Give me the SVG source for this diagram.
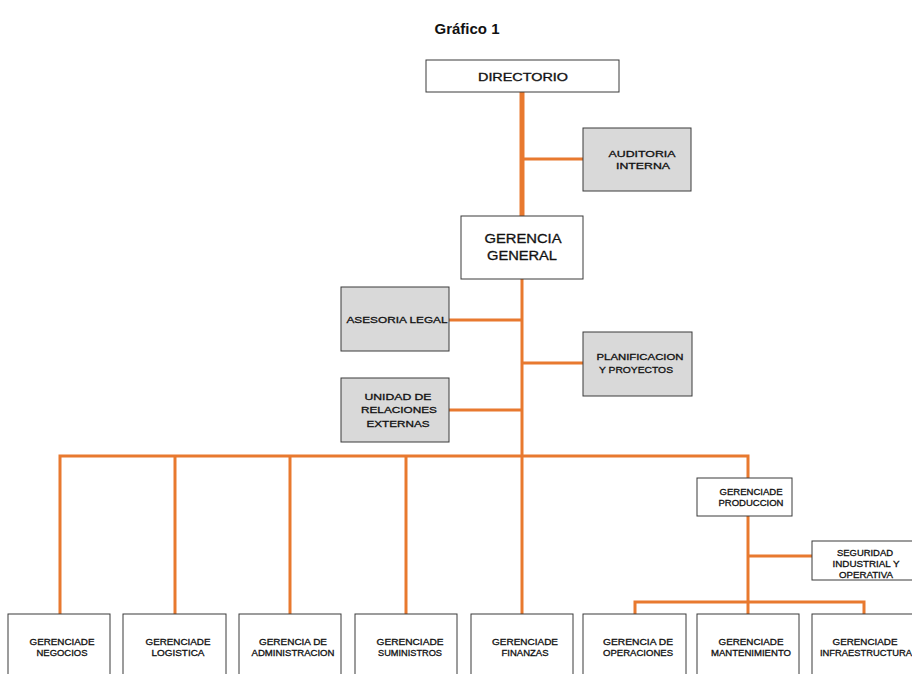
<svg xmlns="http://www.w3.org/2000/svg" width="912" height="674" viewBox="0 0 912 674">
<style>
.bx{fill:#ffffff;stroke:#3a3a3a;stroke-width:1}
.gr{fill:#d9d9d9;stroke:#3a3a3a;stroke-width:1}
.t{font-family:"Liberation Sans",Arial,sans-serif;fill:#111;stroke:#111;stroke-width:0.3;text-anchor:middle}
.s{font-size:9px}
.m{font-size:10px}
.l{font-size:12.5px}
.c{stroke:#E8792F;fill:none;stroke-width:3}
.trunk{stroke-width:5}
</style>
<rect width="912" height="674" fill="#ffffff"/>
<text x="467" y="34" font-family="Liberation Sans,Arial,sans-serif" font-size="15" font-weight="bold" text-anchor="middle" fill="#111">Gráfico 1</text>
<g id="connectors">
<line class="c trunk" x1="522" y1="92" x2="522" y2="216"/>
<line class="c" x1="522" y1="159" x2="583" y2="159"/>
<line class="c" x1="522" y1="279" x2="522" y2="456"/>
<line class="c" x1="449" y1="320" x2="522" y2="320"/>
<line class="c" x1="522" y1="363" x2="583" y2="363"/>
<line class="c" x1="449" y1="410" x2="522" y2="410"/>
<polyline class="c" points="60,614 60,456 748,456 748,478"/>
<line class="c" x1="175" y1="456" x2="175" y2="614"/>
<line class="c" x1="290" y1="456" x2="290" y2="614"/>
<line class="c" x1="406" y1="456" x2="406" y2="614"/>
<line class="c" x1="522" y1="456" x2="522" y2="614"/>
<line class="c" x1="748" y1="516" x2="748" y2="614"/>
<line class="c" x1="748" y1="556" x2="812" y2="556"/>
<polyline class="c" points="635,614 635,602 864,602 864,614"/>
</g>
<g id="directorio">
<rect class="bx" x="426" y="60" width="193" height="32"/>
<text class="t m" x="523" y="81" textLength="90" lengthAdjust="spacingAndGlyphs">DIRECTORIO</text>
</g>
<g id="auditoria">
<rect class="gr" x="583" y="128" width="108" height="63"/>
<text class="t s" x="642" y="157" textLength="67" lengthAdjust="spacingAndGlyphs">AUDITORIA</text>
<text class="t s" x="643" y="169" textLength="54" lengthAdjust="spacingAndGlyphs">INTERNA</text>
</g>
<g id="gerencia-general">
<rect class="bx" x="461" y="216" width="122" height="63"/>
<text class="t l" x="523" y="243" textLength="77" lengthAdjust="spacingAndGlyphs">GERENCIA</text>
<text class="t l" x="522" y="260" textLength="70" lengthAdjust="spacingAndGlyphs">GENERAL</text>
</g>
<g id="asesoria">
<rect class="gr" x="341" y="287" width="108" height="64"/>
<text class="t s" x="397" y="323" textLength="101" lengthAdjust="spacingAndGlyphs">ASESORIA LEGAL</text>
</g>
<g id="planificacion">
<rect class="gr" x="583" y="332" width="109" height="64"/>
<text class="t s" x="640" y="360" textLength="87" lengthAdjust="spacingAndGlyphs">PLANIFICACION</text>
<text class="t s" x="636" y="373" textLength="74" lengthAdjust="spacingAndGlyphs">Y PROYECTOS</text>
</g>
<g id="relaciones">
<rect class="gr" x="341" y="378" width="108" height="64"/>
<text class="t s" x="398" y="400" textLength="67" lengthAdjust="spacingAndGlyphs">UNIDAD DE</text>
<text class="t s" x="399" y="413" textLength="76" lengthAdjust="spacingAndGlyphs">RELACIONES</text>
<text class="t s" x="398" y="427" textLength="63" lengthAdjust="spacingAndGlyphs">EXTERNAS</text>
</g>
<g id="produccion">
<rect class="bx" x="697" y="478" width="95" height="38"/>
<text class="t s" x="751" y="495" font-size="8.5" textLength="63" lengthAdjust="spacingAndGlyphs">GERENCIADE</text>
<text class="t s" x="751" y="506" font-size="8.5" textLength="65" lengthAdjust="spacingAndGlyphs">PRODUCCION</text>
</g>
<g id="seguridad">
<rect class="bx" x="812" y="541" width="105" height="39"/>
<text class="t s" x="865" y="556" font-size="8.5" textLength="56" lengthAdjust="spacingAndGlyphs">SEGURIDAD</text>
<text class="t s" x="866" y="567" font-size="8.5" textLength="67" lengthAdjust="spacingAndGlyphs">INDUSTRIAL Y</text>
<text class="t s" x="866" y="578" font-size="8.5" textLength="54" lengthAdjust="spacingAndGlyphs">OPERATIVA</text>
</g>
<g id="negocios">
<rect class="bx" x="8" y="614" width="102" height="70"/>
<text class="t s" x="62" y="645" font-size="8.5" textLength="65" lengthAdjust="spacingAndGlyphs">GERENCIADE</text>
<text class="t s" x="62" y="656" font-size="8.5" textLength="51" lengthAdjust="spacingAndGlyphs">NEGOCIOS</text>
</g>
<g id="logistica">
<rect class="bx" x="123" y="614" width="103" height="70"/>
<text class="t s" x="178" y="645" font-size="8.5" textLength="65" lengthAdjust="spacingAndGlyphs">GERENCIADE</text>
<text class="t s" x="178" y="656" font-size="8.5" textLength="53" lengthAdjust="spacingAndGlyphs">LOGISTICA</text>
</g>
<g id="administracion">
<rect class="bx" x="239" y="614" width="102" height="70"/>
<text class="t s" x="293" y="645" font-size="8.5" textLength="68" lengthAdjust="spacingAndGlyphs">GERENCIA DE</text>
<text class="t s" x="293" y="656" font-size="8.5" textLength="83" lengthAdjust="spacingAndGlyphs">ADMINISTRACION</text>
</g>
<g id="suministros">
<rect class="bx" x="355" y="614" width="102" height="70"/>
<text class="t s" x="410" y="645" font-size="8.5" textLength="67" lengthAdjust="spacingAndGlyphs">GERENCIADE</text>
<text class="t s" x="410" y="656" font-size="8.5" textLength="64" lengthAdjust="spacingAndGlyphs">SUMINISTROS</text>
</g>
<g id="finanzas">
<rect class="bx" x="471" y="614" width="102" height="70"/>
<text class="t s" x="525" y="645" font-size="8.5" textLength="66" lengthAdjust="spacingAndGlyphs">GERENCIADE</text>
<text class="t s" x="525" y="656" font-size="8.5" textLength="47" lengthAdjust="spacingAndGlyphs">FINANZAS</text>
</g>
<g id="operaciones">
<rect class="bx" x="583" y="614" width="103" height="70"/>
<text class="t s" x="638" y="645" font-size="8.5" textLength="70" lengthAdjust="spacingAndGlyphs">GERENCIA DE</text>
<text class="t s" x="638" y="656" font-size="8.5" textLength="70" lengthAdjust="spacingAndGlyphs">OPERACIONES</text>
</g>
<g id="mantenimiento">
<rect class="bx" x="697" y="614" width="102" height="70"/>
<text class="t s" x="751" y="645" font-size="8.5" textLength="65" lengthAdjust="spacingAndGlyphs">GERENCIADE</text>
<text class="t s" x="751" y="656" font-size="8.5" textLength="80" lengthAdjust="spacingAndGlyphs">MANTENIMIENTO</text>
</g>
<g id="infraestructura">
<rect class="bx" x="812" y="614" width="105" height="70"/>
<text class="t s" x="865" y="645" font-size="8.5" textLength="65" lengthAdjust="spacingAndGlyphs">GERENCIADE</text>
<text class="t s" x="866" y="656" font-size="8.5" textLength="92" lengthAdjust="spacingAndGlyphs">INFRAESTRUCTURA</text>
</g>
</svg>
